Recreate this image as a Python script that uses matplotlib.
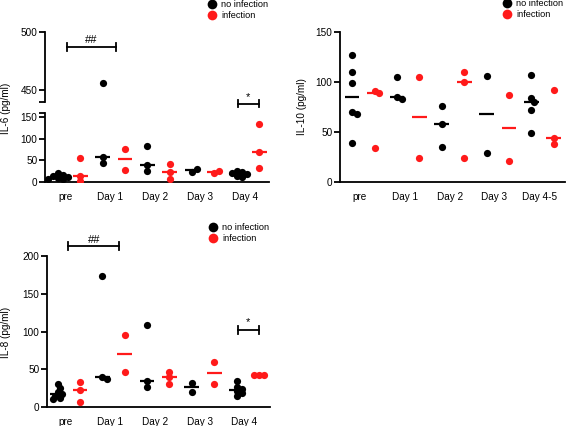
import numpy as np
import matplotlib
matplotlib.use("Agg")
import matplotlib.pyplot as plt
from matplotlib.lines import Line2D

plt.rcParams['font.family'] = ['Liberation Sans', 'DejaVu Sans']
plt.rcParams['font.size'] = 7.2

# data
groups = ["pre", "Day 1", "Day 2", "Day 3", "Day 4"]
groups_il10 = ["pre", "Day 1", "Day 2", "Day 3", "Day 4-5"]

il6_no = [[20, 17, 14, 12, 10, 8, 6], [456, 57, 44], [84, 39, 26], [24, 30], [26, 23, 20, 18, 15, 12]]
il6_inf = [[55, 15, 3], [77, 28], [42, 24, 7], [22, 25], [134, 70, 32]]

il10_no = [[127, 110, 99, 70, 68, 39], [105, 85, 83], [76, 58, 35], [106, 29], [107, 84, 80, 72, 49]]
il10_inf = [[91, 89, 34], [105, 24], [110, 100, 24], [87, 21], [92, 44, 38]]

il8_no = [[30, 25, 20, 17, 15, 12, 10], [173, 40, 37], [108, 35, 26], [32, 20], [35, 27, 24, 21, 18, 14]]
il8_inf = [[33, 22, 6], [95, 46], [47, 40, 30], [60, 30], [43, 43, 43]]

BLACK = "#000000"
RED = "#ff1a1a"
W, H = 566, 426
COLPX = 22.4     # pixels between columns
DOT = 7.0        # marker diameter in pixels
LW = 1.3

fig = plt.figure(figsize=(W / 100, H / 100), dpi=100)


def rect(left, top, right, bottom):
    return [left / W, (H - bottom) / H, (right - left) / W, (bottom - top) / H]


def swarm(vals, ypx):
    # loose beeswarm (dots may overlap a little), offsets in column units
    placed = []
    offs = []
    cands = [0]
    for i in range(1, 20):
        cands += [i * DOT * 0.35, -i * DOT * 0.35]
    for v in vals:
        y = v * ypx
        for x in cands:
            if all((x - px) ** 2 + (y - py) ** 2 >= (DOT * 0.6) ** 2 for px, py in placed):
                break
        placed.append((x, y))
        offs.append(x / COLPX)
    return offs


def draw_groups(ax, no, inf, ypx):
    for i in range(len(no)):
        for j, (vals, col) in enumerate([(no[i], BLACK), (inf[i], RED)]):
            xc = 2 * i + j
            offs = swarm(vals, ypx)
            ax.plot(xc + np.array(offs), vals, 'o', color=col, ms=5.2, mec='none', zorder=3)
            med = np.median(vals)
            ax.plot([xc - 0.33, xc + 0.33], [med, med], color=col, lw=1.6, zorder=4,
                    solid_capstyle='butt')


def style(ax, xlim):
    ax.set_xlim(*xlim)
    for s in ['top', 'right']:
        ax.spines[s].set_visible(False)
    ax.spines['left'].set_linewidth(LW)
    ax.spines['bottom'].set_linewidth(LW)
    ax.tick_params(axis='y', length=4, width=LW, pad=1.5)
    ax.tick_params(axis='x', length=0, pad=7)


def set_xlabels(ax, labels):
    ax.set_xticks(np.arange(len(labels)) * 2 + 0.35)
    ax.set_xticklabels(labels)


def legend(x, y):
    h = [Line2D([], [], marker='o', ls='none', color=BLACK, ms=7, mec='none'),
         Line2D([], [], marker='o', ls='none', color=RED, ms=7, mec='none')]
    fig.legend(h, ["no infection", "infection"], loc='upper left',
               bbox_to_anchor=(x / W, 1 - y / H), frameon=False, handlelength=0.7,
               handletextpad=0.6, labelspacing=0.25, borderpad=0, borderaxespad=0,
               fontsize=6.6)


def sig(ax, x0, x1, y, cap, txt, dy):
    ax.plot([x0, x1], [y, y], color=BLACK, lw=LW, clip_on=False)
    ax.plot([x0, x0], [y - cap, y + cap], color=BLACK, lw=LW, clip_on=False)
    ax.plot([x1, x1], [y - cap, y + cap], color=BLACK, lw=LW, clip_on=False)
    ax.text((x0 + x1) / 2, y + dy, txt, ha='center', va='bottom', fontsize=8)


# ---- IL-6 (broken axis)
ax6b = fig.add_axes(rect(45, 113, 269, 182))
ax6t = fig.add_axes(rect(45, 32, 269, 102), sharex=ax6b)
ax6t.patch.set_visible(False)
ax6b.set_ylim(0, 160)
ax6t.set_ylim(440, 500)
draw_groups(ax6b, il6_no, il6_inf, 65 / 150)
draw_groups(ax6t, il6_no, il6_inf, 65 / 150)
style(ax6b, (-0.58, 9.44))
style(ax6t, (-0.58, 9.44))
ax6t.spines['bottom'].set_visible(False)
ax6t.tick_params(axis='x', labelbottom=False)
ax6b.set_yticks([0, 50, 100, 150, 160])
ax6b.set_yticklabels(["0", "50", "100", "150", ""])
ax6t.set_yticks([440, 450, 500])
ax6t.set_yticklabels(["", "450", "500"])
set_xlabels(ax6b, groups)
sig(ax6t, 0.39, 2.6, 487, 3.5, "##", 1.5)
sig(ax6b, 8.04, 9.0, 182, 9, "*", 3)
fig.text(6 / W, 1 - 108 / H, "IL-6 (pg/ml)", rotation=90, ha='center', va='center')
legend(209, 0)

# ---- IL-10
ax10 = fig.add_axes(rect(340, 32, 565, 182))
ax10.set_ylim(0, 150)
draw_groups(ax10, il10_no, il10_inf, 150 / 150)
style(ax10, (-0.54, 9.5))
ax10.set_yticks([0, 50, 100, 150])
set_xlabels(ax10, groups_il10)
fig.text(302 / W, 1 - 107 / H, "IL-10 (pg/ml)", rotation=90, ha='center', va='center')
legend(504, -1)

# ---- IL-8
ax8 = fig.add_axes(rect(47, 256, 270, 407))
ax8.set_ylim(0, 200)
draw_groups(ax8, il8_no, il8_inf, 151 / 200)
style(ax8, (-0.47, 9.49))
ax8.set_yticks([0, 50, 100, 150, 200])
set_xlabels(ax8, groups)
sig(ax8, 0.48, 2.76, 213, 5, "##", 2)
sig(ax8, 8.04, 9.0, 102, 5, "*", 4)
fig.text(6 / W, 1 - 332 / H, "IL-8 (pg/ml)", rotation=90, ha='center', va='center')
legend(210, 223)

fig.savefig("out.png", dpi=100)
